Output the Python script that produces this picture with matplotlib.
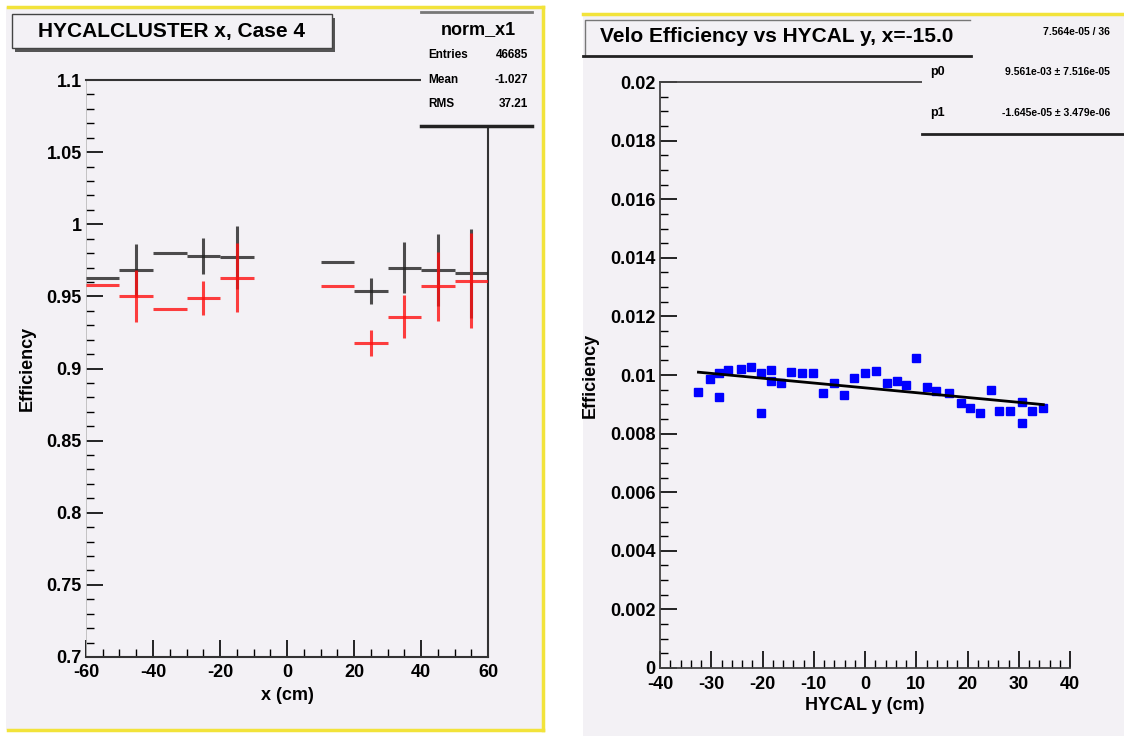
import numpy as np
import matplotlib.pyplot as plt
from matplotlib.patches import Rectangle
from matplotlib.ticker import MultipleLocator, FuncFormatter
from matplotlib.lines import Line2D

plt.rcParams['font.family'] = ['Liberation Sans Narrow', 'Liberation Sans', 'DejaVu Sans']
plt.rcParams['font.weight'] = 'bold'
plt.rcParams['axes.labelweight'] = 'bold'
plt.rcParams['axes.unicode_minus'] = False

# =========================
# DATA
# =========================
# left panel: efficiency vs x, two cases (bins of 10 cm)
x_bins = [-55, -45, -35, -25, -15, 15, 25, 35, 45, 55]
eff_black = [0.963, 0.968, 0.980, 0.978, 0.977, 0.974, 0.954, 0.970, 0.968, 0.966]
err_black = [0.0, 0.018, 0.0, 0.0125, 0.022, 0.0, 0.009, 0.018, 0.025, 0.031]
eff_red = [0.958, 0.950, 0.941, 0.949, 0.963, 0.957, 0.918, 0.936, 0.957, 0.961]
err_red = [0.0, 0.018, 0.0, 0.012, 0.024, 0.0, 0.009, 0.015, 0.024, 0.033]

# right panel: velo efficiency vs HYCAL y
hy_y = [-32.5, -30.3, -28.4, -28.4, -26.7, -24.2, -22.3, -20.2, -20.2, -18.3,
        -18.4, -16.3, -14.4, -12.2, -10.1, -8.1, -6.1, -4.1, -2.2, 0.0,
        2.2, 4.3, 6.3, 8.0, 10.0, 12.1, 13.8, 16.4, 18.7, 20.4,
        22.5, 24.5, 26.1, 28.2, 30.7, 30.7, 32.6, 34.8]
velo_eff = [0.00941, 0.00985, 0.01006, 0.00924, 0.01017, 0.01019, 0.01026, 0.01006, 0.00871, 0.01017,
            0.00981, 0.00972, 0.01011, 0.01006, 0.01008, 0.00938, 0.00974, 0.00932, 0.00989, 0.01006,
            0.01015, 0.00972, 0.00980, 0.00966, 0.01057, 0.00960, 0.00945, 0.00938, 0.00903, 0.00886,
            0.00869, 0.00949, 0.00878, 0.00878, 0.00909, 0.00835, 0.00878, 0.00888]

W, H = 1124, 736
BG = '#f3f1f5'
YEL = '#f2e33a'


def fx(px):
    return px / W


def fy(py):
    return 1 - py / H


fig = plt.figure(figsize=(11.24, 7.36), dpi=100)
fig.patch.set_facecolor('white')

# panel backgrounds (behind the axes)
fig.patches.append(Rectangle((fx(6), fy(730)), fx(537), 723 / H, transform=fig.transFigure,
                             facecolor=BG, edgecolor='none', zorder=-10))
fig.patches.append(Rectangle((fx(583), fy(736)), fx(541), 722 / H, transform=fig.transFigure,
                             facecolor=BG, edgecolor='none', zorder=-10))
# yellow pad frames
for (xa, ya, xb, yb) in [(8, 7, 543, 7), (543, 7, 543, 730), (8, 730, 543, 730), (583, 14, 1124, 14)]:
    fig.lines.append(Line2D([fx(xa), fx(xb)], [fy(ya), fy(yb)], transform=fig.transFigure,
                            color=YEL, lw=2.5, zorder=-5))

# =========================
# LEFT PANEL
# =========================
ax1 = fig.add_axes([fx(86), fy(657), fx(488 - 86), (657 - 80) / H])
ax1.set_facecolor(BG)
ax1.errorbar(x_bins, eff_black, xerr=5, yerr=err_black, fmt='none', ecolor='#222222',
             elinewidth=2.2, alpha=0.8, zorder=3)
ax1.errorbar(x_bins, eff_red, xerr=5, yerr=err_red, fmt='none', ecolor='#ff1010',
             elinewidth=2.2, alpha=0.8, zorder=4)
ax1.set_xlim(-60, 60)
ax1.set_ylim(0.7, 1.1)
ax1.xaxis.set_major_locator(MultipleLocator(20))
ax1.xaxis.set_minor_locator(MultipleLocator(5))
ax1.yaxis.set_major_locator(MultipleLocator(0.05))
ax1.yaxis.set_minor_locator(MultipleLocator(0.01))
ax1.yaxis.set_major_formatter(FuncFormatter(lambda v, p: '%g' % round(v, 3)))
ax1.tick_params(axis='both', which='major', direction='in', length=12, width=1.2, labelsize=13, pad=3)
ax1.tick_params(axis='both', which='minor', direction='in', length=6, width=1.0)
ax1.tick_params(axis='y', which='both', left=True, right=False)
ax1.tick_params(axis='x', which='both', top=False, pad=5)
for s in ['top', 'bottom', 'right']:
    ax1.spines[s].set_color('#333333')
    ax1.spines[s].set_linewidth(1.5)
ax1.spines['left'].set_color('#bbbbbb')
ax1.spines['left'].set_linewidth(0.6)
ax1.set_xlabel('x (cm)', fontsize=13, labelpad=4)
ax1.set_ylabel('Efficiency', fontsize=13, labelpad=8)
for lab in ax1.get_xticklabels() + ax1.get_yticklabels():
    lab.set_fontweight('bold')

# title box left
fig.patches.append(Rectangle((fx(15), fy(52)), fx(320), 34 / H, transform=fig.transFigure,
                             facecolor='#555555', edgecolor='none', zorder=5))
fig.patches.append(Rectangle((fx(12), fy(48)), fx(320), 34 / H, transform=fig.transFigure,
                             facecolor=BG, edgecolor='#444444', lw=1, zorder=6))
fig.text(fx(172), fy(31), 'HYCALCLUSTER x, Case 4', fontsize=15, ha='center', va='center', zorder=7)

# stats box left
fig.patches.append(Rectangle((fx(421), fy(126)), fx(112), 114 / H, transform=fig.transFigure,
                             facecolor=BG, edgecolor='none', zorder=5))
fig.lines.append(Line2D([fx(421), fx(532)], [fy(12), fy(12)], transform=fig.transFigure,
                        color='#777777', lw=2, zorder=6))
fig.lines.append(Line2D([fx(421), fx(532)], [fy(126), fy(126)], transform=fig.transFigure,
                        color='#222222', lw=2.5, zorder=6))
fig.text(fx(478), fy(30), 'norm_x1', fontsize=13, ha='center', va='center', zorder=7)
for lab, val, yy in [('Entries', '46685', 55), ('Mean', '-1.027', 80), ('RMS', '37.21', 104)]:
    fig.text(fx(428), fy(yy), lab, fontsize=8.5, ha='left', va='center', zorder=7)
    fig.text(fx(528), fy(yy), val, fontsize=8.5, ha='right', va='center', zorder=7)

# =========================
# RIGHT PANEL
# =========================
ax2 = fig.add_axes([fx(660), fy(668), fx(1070 - 660), (668 - 82) / H])
ax2.set_facecolor(BG)
ax2.plot(hy_y, velo_eff, 's', color='#0000ff', markersize=6, zorder=3)
p1, p0 = np.polyfit(hy_y, velo_eff, 1)
xf = np.array([min(hy_y), max(hy_y)])
ax2.plot(xf, p0 + p1 * xf, color='black', lw=2, zorder=4)
ax2.set_xlim(-40, 40)
ax2.set_ylim(0, 0.02)
ax2.xaxis.set_major_locator(MultipleLocator(10))
ax2.xaxis.set_minor_locator(MultipleLocator(2))
ax2.yaxis.set_major_locator(MultipleLocator(0.002))
ax2.yaxis.set_minor_locator(MultipleLocator(0.0005))
ax2.yaxis.set_major_formatter(FuncFormatter(lambda v, p: '%g' % round(v, 4)))
ax2.tick_params(axis='both', which='major', direction='in', length=12, width=1.2, labelsize=13, pad=3)
ax2.tick_params(axis='both', which='minor', direction='in', length=6, width=1.0)
ax2.tick_params(axis='x', which='both', top=False, pad=6)
ax2.tick_params(axis='y', which='both', right=False)
ax2.spines['right'].set_visible(False)
for s in ['top', 'bottom', 'left']:
    ax2.spines[s].set_color('#444444')
    ax2.spines[s].set_linewidth(1.3)
ax2.set_xlabel('HYCAL y (cm)', fontsize=13, labelpad=3)
ax2.set_ylabel('Efficiency', fontsize=13)
ax2.yaxis.set_label_coords(-0.15, 0.5)
for lab in ax2.get_xticklabels() + ax2.get_yticklabels():
    lab.set_fontweight('bold')

# title box right
fig.patches.append(Rectangle((fx(583), fy(56)), fx(388), 38 / H, transform=fig.transFigure,
                             facecolor=BG, edgecolor='none', zorder=5))
fig.lines.append(Line2D([fx(585), fx(585), fx(970)], [fy(56), fy(20), fy(20)], transform=fig.transFigure,
                        color='#777777', lw=1, zorder=6))
fig.lines.append(Line2D([fx(583), fx(971)], [fy(56), fy(56)], transform=fig.transFigure,
                        color='#222222', lw=2, zorder=6))
fig.text(fx(777), fy(37), 'Velo Efficiency vs HYCAL y, x=-15.0', fontsize=15, ha='center', va='center', zorder=7)

# stats box right
fig.patches.append(Rectangle((fx(922), fy(134)), fx(202), 116 / H, transform=fig.transFigure,
                             facecolor=BG, edgecolor='none', zorder=5))
fig.lines.append(Line2D([fx(922), fx(1124)], [fy(134), fy(134)], transform=fig.transFigure,
                        color='#222222', lw=2, zorder=6))
fig.text(fx(1110), fy(32), '7.564e-05 / 36', fontsize=7.5, ha='right', va='center', zorder=7)
fig.text(fx(930), fy(72), 'p0', fontsize=9, ha='left', va='center', zorder=7)
fig.text(fx(1110), fy(72), '%.3e \u00b1 7.516e-05' % p0, fontsize=7.5, ha='right', va='center', zorder=7)
fig.text(fx(930), fy(113), 'p1', fontsize=9, ha='left', va='center', zorder=7)
fig.text(fx(1110), fy(113), '%.3e \u00b1 3.479e-06' % p1, fontsize=7.5, ha='right', va='center', zorder=7)

fig.savefig('out.png', dpi=100, facecolor=fig.get_facecolor())
